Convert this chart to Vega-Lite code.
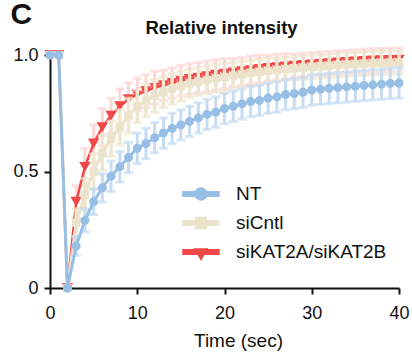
{
  "$schema": "https://vega.github.io/schema/vega-lite/v6.json",
  "autosize": {"type": "none"},
  "padding": {"left": 50, "top": 55, "right": 13, "bottom": 66},
  "width": 349,
  "height": 233,
  "background": "white",
  "config": {
    "view": {"stroke": null},
    "font": "Liberation Sans",
    "axis": {
      "grid": false,
      "domainColor": "#111111",
      "domainWidth": 2,
      "tickColor": "#111111",
      "tickWidth": 2,
      "tickSize": 6,
      "labelFont": "Liberation Sans",
      "labelFontSize": 18,
      "labelColor": "#111111",
      "titleFont": "Liberation Sans",
      "titleColor": "#111111"
    },
    "legend": {
      "labelFont": "Liberation Sans",
      "labelFontSize": 19,
      "labelColor": "#111111"
    }
  },
  "title": {
    "text": "Relative intensity",
    "font": "Liberation Sans",
    "fontSize": 18.5,
    "fontWeight": "bold",
    "color": "#111111",
    "anchor": "middle",
    "baseline": "alphabetic",
    "offset": -53,
    "dx": -3
  },
  "data": {
    "values": [
      {"t": 0, "s": "NT", "m": 1.0, "sd": 0},
      {"t": 1, "s": "NT", "m": 1.0, "sd": 0},
      {"t": 2, "s": "NT", "m": 0.0, "sd": 0},
      {"t": 3, "s": "NT", "m": 0.18, "sd": 0.04},
      {"t": 4, "s": "NT", "m": 0.29, "sd": 0.05},
      {"t": 5, "s": "NT", "m": 0.37, "sd": 0.055},
      {"t": 6, "s": "NT", "m": 0.43, "sd": 0.06},
      {"t": 7, "s": "NT", "m": 0.48, "sd": 0.065},
      {"t": 8, "s": "NT", "m": 0.52, "sd": 0.065},
      {"t": 9, "s": "NT", "m": 0.56, "sd": 0.065},
      {"t": 10, "s": "NT", "m": 0.60, "sd": 0.065},
      {"t": 11, "s": "NT", "m": 0.62, "sd": 0.065},
      {"t": 12, "s": "NT", "m": 0.645, "sd": 0.065},
      {"t": 13, "s": "NT", "m": 0.665, "sd": 0.065},
      {"t": 14, "s": "NT", "m": 0.685, "sd": 0.065},
      {"t": 15, "s": "NT", "m": 0.70, "sd": 0.065},
      {"t": 16, "s": "NT", "m": 0.715, "sd": 0.065},
      {"t": 17, "s": "NT", "m": 0.73, "sd": 0.065},
      {"t": 18, "s": "NT", "m": 0.745, "sd": 0.065},
      {"t": 19, "s": "NT", "m": 0.755, "sd": 0.065},
      {"t": 20, "s": "NT", "m": 0.77, "sd": 0.065},
      {"t": 21, "s": "NT", "m": 0.78, "sd": 0.065},
      {"t": 22, "s": "NT", "m": 0.79, "sd": 0.065},
      {"t": 23, "s": "NT", "m": 0.80, "sd": 0.065},
      {"t": 24, "s": "NT", "m": 0.805, "sd": 0.065},
      {"t": 25, "s": "NT", "m": 0.815, "sd": 0.065},
      {"t": 26, "s": "NT", "m": 0.82, "sd": 0.065},
      {"t": 27, "s": "NT", "m": 0.83, "sd": 0.065},
      {"t": 28, "s": "NT", "m": 0.835, "sd": 0.065},
      {"t": 29, "s": "NT", "m": 0.84, "sd": 0.065},
      {"t": 30, "s": "NT", "m": 0.85, "sd": 0.065},
      {"t": 31, "s": "NT", "m": 0.853, "sd": 0.065},
      {"t": 32, "s": "NT", "m": 0.857, "sd": 0.065},
      {"t": 33, "s": "NT", "m": 0.86, "sd": 0.065},
      {"t": 34, "s": "NT", "m": 0.863, "sd": 0.065},
      {"t": 35, "s": "NT", "m": 0.866, "sd": 0.065},
      {"t": 36, "s": "NT", "m": 0.869, "sd": 0.065},
      {"t": 37, "s": "NT", "m": 0.872, "sd": 0.065},
      {"t": 38, "s": "NT", "m": 0.875, "sd": 0.065},
      {"t": 39, "s": "NT", "m": 0.878, "sd": 0.065},
      {"t": 40, "s": "NT", "m": 0.88, "sd": 0.065},
      {"t": 0, "s": "siCntl", "m": 1.0, "sd": 0},
      {"t": 1, "s": "siCntl", "m": 1.0, "sd": 0},
      {"t": 2, "s": "siCntl", "m": 0.0, "sd": 0},
      {"t": 3, "s": "siCntl", "m": 0.28, "sd": 0.06},
      {"t": 4, "s": "siCntl", "m": 0.40, "sd": 0.07},
      {"t": 5, "s": "siCntl", "m": 0.50, "sd": 0.075},
      {"t": 6, "s": "siCntl", "m": 0.58, "sd": 0.075},
      {"t": 7, "s": "siCntl", "m": 0.64, "sd": 0.075},
      {"t": 8, "s": "siCntl", "m": 0.69, "sd": 0.075},
      {"t": 9, "s": "siCntl", "m": 0.74, "sd": 0.075},
      {"t": 10, "s": "siCntl", "m": 0.78, "sd": 0.07},
      {"t": 11, "s": "siCntl", "m": 0.805, "sd": 0.07},
      {"t": 12, "s": "siCntl", "m": 0.825, "sd": 0.07},
      {"t": 13, "s": "siCntl", "m": 0.84, "sd": 0.065},
      {"t": 14, "s": "siCntl", "m": 0.855, "sd": 0.065},
      {"t": 15, "s": "siCntl", "m": 0.867, "sd": 0.065},
      {"t": 16, "s": "siCntl", "m": 0.878, "sd": 0.06},
      {"t": 17, "s": "siCntl", "m": 0.886, "sd": 0.06},
      {"t": 18, "s": "siCntl", "m": 0.893, "sd": 0.06},
      {"t": 19, "s": "siCntl", "m": 0.9, "sd": 0.06},
      {"t": 20, "s": "siCntl", "m": 0.906, "sd": 0.06},
      {"t": 21, "s": "siCntl", "m": 0.912, "sd": 0.055},
      {"t": 22, "s": "siCntl", "m": 0.918, "sd": 0.055},
      {"t": 23, "s": "siCntl", "m": 0.923, "sd": 0.055},
      {"t": 24, "s": "siCntl", "m": 0.928, "sd": 0.055},
      {"t": 25, "s": "siCntl", "m": 0.932, "sd": 0.055},
      {"t": 26, "s": "siCntl", "m": 0.936, "sd": 0.05},
      {"t": 27, "s": "siCntl", "m": 0.94, "sd": 0.05},
      {"t": 28, "s": "siCntl", "m": 0.943, "sd": 0.05},
      {"t": 29, "s": "siCntl", "m": 0.946, "sd": 0.05},
      {"t": 30, "s": "siCntl", "m": 0.949, "sd": 0.05},
      {"t": 31, "s": "siCntl", "m": 0.952, "sd": 0.05},
      {"t": 32, "s": "siCntl", "m": 0.954, "sd": 0.05},
      {"t": 33, "s": "siCntl", "m": 0.957, "sd": 0.05},
      {"t": 34, "s": "siCntl", "m": 0.959, "sd": 0.05},
      {"t": 35, "s": "siCntl", "m": 0.961, "sd": 0.05},
      {"t": 36, "s": "siCntl", "m": 0.963, "sd": 0.05},
      {"t": 37, "s": "siCntl", "m": 0.965, "sd": 0.05},
      {"t": 38, "s": "siCntl", "m": 0.966, "sd": 0.05},
      {"t": 39, "s": "siCntl", "m": 0.967, "sd": 0.05},
      {"t": 40, "s": "siCntl", "m": 0.968, "sd": 0.05},
      {"t": 0, "s": "siKAT2A/siKAT2B", "m": 1.0, "sd": 0},
      {"t": 1, "s": "siKAT2A/siKAT2B", "m": 1.0, "sd": 0},
      {"t": 2, "s": "siKAT2A/siKAT2B", "m": 0.0, "sd": 0},
      {"t": 3, "s": "siKAT2A/siKAT2B", "m": 0.37, "sd": 0.07},
      {"t": 4, "s": "siKAT2A/siKAT2B", "m": 0.52, "sd": 0.08},
      {"t": 5, "s": "siKAT2A/siKAT2B", "m": 0.62, "sd": 0.08},
      {"t": 6, "s": "siKAT2A/siKAT2B", "m": 0.69, "sd": 0.08},
      {"t": 7, "s": "siKAT2A/siKAT2B", "m": 0.74, "sd": 0.075},
      {"t": 8, "s": "siKAT2A/siKAT2B", "m": 0.78, "sd": 0.075},
      {"t": 9, "s": "siKAT2A/siKAT2B", "m": 0.81, "sd": 0.07},
      {"t": 10, "s": "siKAT2A/siKAT2B", "m": 0.83, "sd": 0.07},
      {"t": 11, "s": "siKAT2A/siKAT2B", "m": 0.845, "sd": 0.07},
      {"t": 12, "s": "siKAT2A/siKAT2B", "m": 0.86, "sd": 0.07},
      {"t": 13, "s": "siKAT2A/siKAT2B", "m": 0.87, "sd": 0.065},
      {"t": 14, "s": "siKAT2A/siKAT2B", "m": 0.88, "sd": 0.065},
      {"t": 15, "s": "siKAT2A/siKAT2B", "m": 0.89, "sd": 0.065},
      {"t": 16, "s": "siKAT2A/siKAT2B", "m": 0.897, "sd": 0.065},
      {"t": 17, "s": "siKAT2A/siKAT2B", "m": 0.903, "sd": 0.065},
      {"t": 18, "s": "siKAT2A/siKAT2B", "m": 0.909, "sd": 0.065},
      {"t": 19, "s": "siKAT2A/siKAT2B", "m": 0.915, "sd": 0.065},
      {"t": 20, "s": "siKAT2A/siKAT2B", "m": 0.92, "sd": 0.065},
      {"t": 21, "s": "siKAT2A/siKAT2B", "m": 0.925, "sd": 0.06},
      {"t": 22, "s": "siKAT2A/siKAT2B", "m": 0.93, "sd": 0.06},
      {"t": 23, "s": "siKAT2A/siKAT2B", "m": 0.935, "sd": 0.06},
      {"t": 24, "s": "siKAT2A/siKAT2B", "m": 0.94, "sd": 0.06},
      {"t": 25, "s": "siKAT2A/siKAT2B", "m": 0.944, "sd": 0.055},
      {"t": 26, "s": "siKAT2A/siKAT2B", "m": 0.948, "sd": 0.055},
      {"t": 27, "s": "siKAT2A/siKAT2B", "m": 0.951, "sd": 0.055},
      {"t": 28, "s": "siKAT2A/siKAT2B", "m": 0.954, "sd": 0.05},
      {"t": 29, "s": "siKAT2A/siKAT2B", "m": 0.957, "sd": 0.05},
      {"t": 30, "s": "siKAT2A/siKAT2B", "m": 0.96, "sd": 0.05},
      {"t": 31, "s": "siKAT2A/siKAT2B", "m": 0.963, "sd": 0.05},
      {"t": 32, "s": "siKAT2A/siKAT2B", "m": 0.965, "sd": 0.05},
      {"t": 33, "s": "siKAT2A/siKAT2B", "m": 0.968, "sd": 0.05},
      {"t": 34, "s": "siKAT2A/siKAT2B", "m": 0.97, "sd": 0.05},
      {"t": 35, "s": "siKAT2A/siKAT2B", "m": 0.972, "sd": 0.05},
      {"t": 36, "s": "siKAT2A/siKAT2B", "m": 0.975, "sd": 0.05},
      {"t": 37, "s": "siKAT2A/siKAT2B", "m": 0.977, "sd": 0.05},
      {"t": 38, "s": "siKAT2A/siKAT2B", "m": 0.978, "sd": 0.05},
      {"t": 39, "s": "siKAT2A/siKAT2B", "m": 0.979, "sd": 0.05},
      {"t": 40, "s": "siKAT2A/siKAT2B", "m": 0.98, "sd": 0.05}
    ]
  },
  "encoding": {
    "x": {
      "field": "t",
      "type": "quantitative",
      "scale": {"domain": [0, 40], "nice": false},
      "axis": {
        "values": [0, 10, 20, 30, 40],
        "title": "Time (sec)",
        "titleFontSize": 19,
        "titleFontWeight": "normal",
        "titlePadding": 9,
        "titleX": 188,
        "labelPadding": 10,
        "labelFlush": false
      }
    },
    "y": {
      "field": "m",
      "type": "quantitative",
      "scale": {"domain": [0, 1], "nice": false},
      "axis": {
        "values": [0, 0.5, 1],
        "labelExpr": "datum.value == 0 ? '0' : format(datum.value, '.1f')",
        "labelPadding": 6,
        "labelFlush": false,
        "title": "C",
        "titleAngle": 0,
        "titleAlign": "left",
        "titleBaseline": "top",
        "titleX": -40,
        "titleY": -56,
        "titleFontSize": 30,
        "titleFontWeight": "bold"
      }
    }
  },
  "layer": [
    {
      "transform": [{"filter": "datum.s == 'siKAT2A/siKAT2B' && datum.sd > 0"}],
      "mark": {"type": "errorbar", "color": "#fdd6d6", "ticks": {"size": 9, "thickness": 3}, "rule": {"strokeWidth": 3}},
      "encoding": {"yError": {"field": "sd"}}
    },
    {
      "transform": [{"filter": "datum.s == 'siKAT2A/siKAT2B'"}],
      "mark": {"type": "line", "strokeWidth": 2.5},
      "encoding": {"color": {"field": "s", "type": "nominal"}}
    },
    {
      "transform": [{"filter": "datum.s == 'siKAT2A/siKAT2B'"}],
      "mark": {"type": "point", "shape": "triangle-down", "filled": true, "opacity": 1, "size": 130},
      "encoding": {"color": {"field": "s", "type": "nominal"}}
    },
    {
      "transform": [{"filter": "datum.s == 'siCntl' && datum.sd > 0"}],
      "mark": {"type": "errorbar", "color": "#eee6cf", "ticks": {"size": 9, "thickness": 3}, "rule": {"strokeWidth": 3.5}},
      "encoding": {"yError": {"field": "sd"}}
    },
    {
      "transform": [{"filter": "datum.s == 'siCntl'"}],
      "mark": {"type": "line", "strokeWidth": 3},
      "encoding": {"color": {"field": "s", "type": "nominal"}}
    },
    {
      "transform": [{"filter": "datum.s == 'siCntl'"}],
      "mark": {"type": "point", "shape": "square", "filled": true, "opacity": 1, "size": 72},
      "encoding": {"color": {"field": "s", "type": "nominal"}}
    },
    {
      "transform": [{"filter": "datum.s == 'NT' && datum.sd > 0"}],
      "mark": {"type": "errorbar", "color": "#c6dcf3", "ticks": {"size": 9, "thickness": 3}, "rule": {"strokeWidth": 3}},
      "encoding": {"yError": {"field": "sd"}}
    },
    {
      "transform": [{"filter": "datum.s == 'NT'"}],
      "mark": {"type": "line", "strokeWidth": 3},
      "encoding": {"color": {"field": "s", "type": "nominal"}}
    },
    {
      "transform": [{"filter": "datum.s == 'NT'"}],
      "mark": {"type": "point", "shape": "circle", "filled": true, "opacity": 1, "size": 81},
      "encoding": {"color": {"field": "s", "type": "nominal"}}
    },
    {
      "transform": [{"filter": "datum.t == 40"}],
      "mark": {"type": "point", "filled": true, "opacity": 1, "size": 0},
      "encoding": {
        "shape": {
          "field": "s",
          "type": "nominal",
          "scale": {
            "domain": ["NT", "siCntl", "siKAT2A/siKAT2B"],
            "range": [
              "M-1,-0.125H1V0.125H-1Z M-0.333,0A0.333,0.333 0 1,1 0.333,0A0.333,0.333 0 1,1 -0.333,0Z",
              "M-1,-0.125H1V0.125H-1Z M-0.3,-0.3H0.3V0.3H-0.3Z",
              "M-1,-0.125H1V0.125H-1Z M-0.34,-0.17H0.34L0,0.42Z"
            ]
          }
        },
        "color": {
          "field": "s",
          "type": "nominal",
          "scale": {"domain": ["NT", "siCntl", "siKAT2A/siKAT2B"], "range": ["#97bfe6", "#ebe3cb", "#f04848"]},
          "legend": {
            "title": null,
            "orient": "none",
            "legendX": 132,
            "legendY": 120,
            "padding": 0,
            "symbolSize": 1296,
            "labelOffset": 16,
            "rowPadding": -11,
            "encode": {
              "symbols": {
                "update": {
                  "fill": {"signal": "scale('color', datum.value)"},
                  "stroke": {"value": "transparent"},
                  "strokeWidth": {"value": 0},
                  "opacity": {"value": 1},
                  "size": {"value": 1296}
                }
              }
            }
          }
        }
      }
    }
  ]
}
